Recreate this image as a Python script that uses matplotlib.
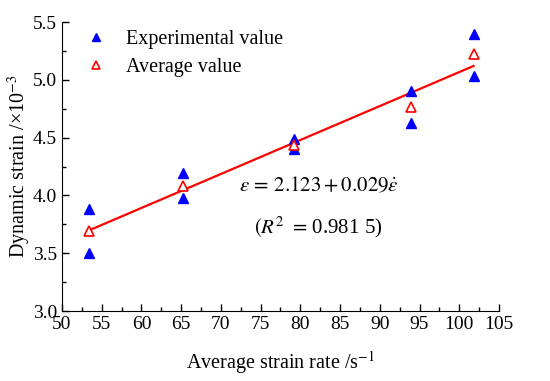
import numpy as np
import matplotlib.pyplot as plt
from matplotlib.ticker import MultipleLocator

plt.rcParams['font.family'] = ['Liberation Serif', 'DejaVu Serif']
plt.rcParams['mathtext.fontset'] = 'stix'

rate = [53.4, 65.2, 79.2, 93.9, 101.8]
exp_high = [3.885, 4.197, 4.485, 4.906, 5.399]
exp_low = [3.50, 3.975, 4.399, 4.629, 5.035]
avg = [3.695, 4.084, 4.439, 4.767, 5.22]

# linear fit through the average values
slope, intercept = np.polyfit(rate, avg, 1)
xfit = np.array([rate[0], rate[-1]])

fig = plt.figure(figsize=(5.5, 3.81), dpi=100)
ax = fig.add_axes([0.1127, 0.1837, 0.7945, 0.7585])

ax.plot(xfit, intercept + slope * xfit, color='red', lw=1.6, zorder=2)
ax.plot(rate + rate, exp_high + exp_low, ls='none', marker='^', ms=7,
        color='blue', label='Experimental value', zorder=3)
ax.plot(rate, avg, ls='none', marker='^', ms=7, mfc='white', mec='red',
        mew=1.2, label='Average value', zorder=4)

ax.set_xlim(50, 105)
ax.set_ylim(3.0, 5.5)
ax.xaxis.set_major_locator(MultipleLocator(5))
ax.xaxis.set_minor_locator(MultipleLocator(2.5))
ax.yaxis.set_major_locator(MultipleLocator(0.5))
ax.yaxis.set_minor_locator(MultipleLocator(0.25))
ax.yaxis.set_major_formatter(plt.FormatStrFormatter('%.1f'))
ax.tick_params(which='both', direction='in', labelsize=14)
ax.tick_params(which='major', length=5, width=1)
ax.tick_params(which='minor', length=3, width=1)
ax.spines['top'].set_visible(False)
ax.spines['right'].set_visible(False)

ax.set_xlabel('Average strain rate /s$^{-1}$', fontsize=14.5, labelpad=12)
ax.set_ylabel('Dynamic strain /×10$^{-3}$', fontsize=14.5, labelpad=0)

ax.text(82.3, 4.08, r'$\varepsilon\,=\,2.123+0.029\dot{\varepsilon}$',
        fontsize=15, ha='center', va='center')
ax.text(82.3, 3.72, r'$(R^2\ =\,$0.981 5)', fontsize=15, ha='center', va='center')

ax.legend(loc='upper left', bbox_to_anchor=(0.0, 1.035), frameon=False,
          fontsize=14.5, handlelength=1.6, handletextpad=0.7, labelspacing=0.45,
          markerscale=0.85)

fig.savefig('out.png', dpi=100)
